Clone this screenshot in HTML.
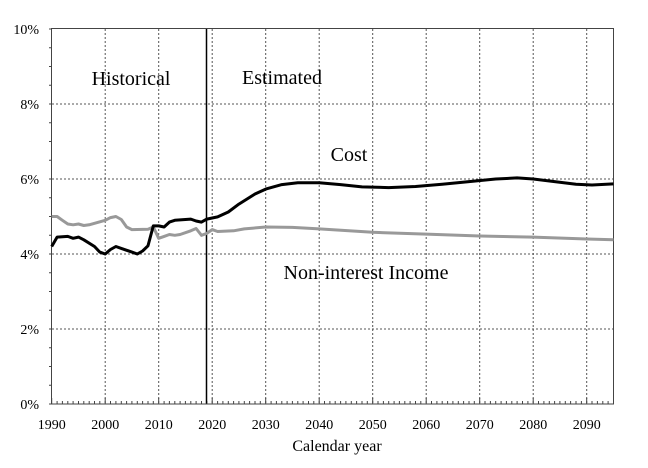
<!DOCTYPE html>
<html><head><meta charset="utf-8"><style>
html,body{margin:0;padding:0;background:#fff;}
svg{display:block;font-family:"Liberation Serif",serif;}
</style></head><body>
<svg id="s" width="648" height="468" viewBox="0 0 648 468" xmlns="http://www.w3.org/2000/svg">
<rect width="648" height="468" fill="#fff"/>
<g id="grid" stroke="#555" stroke-width="1" stroke-dasharray="2,2"></g>
<g id="ticks" stroke="#444" stroke-width="1"></g>
<line x1="206.5" y1="29" x2="206.5" y2="404" stroke="#000" stroke-width="1.5"/>
<rect x="51.5" y="28.5" width="562" height="375.5" fill="none" stroke="#444" stroke-width="1"/>
<polyline id="inc" fill="none" stroke="#999" stroke-width="3" stroke-linejoin="round"/>
<polyline id="cost" fill="none" stroke="#000" stroke-width="3" stroke-linejoin="round"/>
<g font-size="14" text-anchor="end" fill="#000">
<text x="39" y="34">10%</text><text x="39" y="109">8%</text><text x="39" y="184">6%</text>
<text x="39" y="259">4%</text><text x="39" y="334">2%</text><text x="39" y="409">0%</text>
</g>
<g id="xl" font-size="14" text-anchor="middle" fill="#000"></g>
<text x="337" y="451" font-size="16" text-anchor="middle">Calendar year</text>
<text x="131" y="85" font-size="20" text-anchor="middle">Historical</text>
<text x="282" y="84" font-size="20" text-anchor="middle">Estimated</text>
<text x="349" y="161" font-size="20" text-anchor="middle">Cost</text>
<text x="366" y="279" font-size="20" text-anchor="middle">Non-interest Income</text>
</svg>
<script>
var X=function(y){return 51.7+(y-1990)*5.35}, Y=function(v){return 404-37.5*v};
var ns="http://www.w3.org/2000/svg";
function el(p,t,a,txt){var e=document.createElementNS(ns,t);for(var k in a)e.setAttribute(k,a[k]);if(txt)e.textContent=txt;document.getElementById(p).appendChild(e);}
for(var yr=2000;yr<=2090;yr+=10){var x=X(yr).toFixed(1);el("grid","line",{x1:x,x2:x,y1:29,y2:404});}
for(var v=2;v<=8;v+=2){var y=Y(v);el("grid","line",{x1:52,x2:613,y1:y,y2:y});}
for(var yr=1990;yr<=2095;yr++){var x=X(yr).toFixed(1);el("ticks","line",{x1:x,x2:x,y1:404,y2:yr%10?401:398});}
for(var v=0;v<=10;v+=0.5){var y=Y(v);el("ticks","line",{x1:49,x2:52,y1:y,y2:y});}
for(var yr=1990;yr<=2090;yr+=10){el("xl","text",{x:X(yr).toFixed(1),y:429},String(yr));}
function pts(d){return d.map(function(p){return X(p[0]).toFixed(1)+","+Y(p[1]).toFixed(1)}).join(" ")}
var cost=[[1990,4.2],[1991,4.45],[1993,4.47],[1994,4.42],[1995,4.45],[1996,4.38],[1998,4.2],[1999,4.05],[2000,4.0],[2001,4.12],[2002,4.2],[2003,4.15],[2005,4.05],[2006,4.0],[2007,4.08],[2008,4.22],[2009,4.75],[2010,4.75],[2011,4.72],[2012,4.85],[2013,4.9],[2016,4.93],[2017,4.88],[2018,4.85],[2019,4.93],[2021,4.99],[2023,5.12],[2025,5.33],[2028,5.6],[2030,5.73],[2033,5.85],[2036,5.9],[2040,5.9],[2044,5.85],[2048,5.79],[2053,5.77],[2058,5.8],[2063,5.86],[2068,5.93],[2073,6.0],[2077,6.03],[2080,6.0],[2084,5.93],[2088,5.86],[2091,5.84],[2095,5.87]];
var inc=[[1990,5.0],[1991,5.0],[1992,4.9],[1993,4.8],[1994,4.78],[1995,4.8],[1996,4.76],[1997,4.78],[2000,4.9],[2001,4.97],[2002,5.0],[2003,4.92],[2004,4.72],[2005,4.65],[2008,4.66],[2009,4.72],[2010,4.42],[2011,4.47],[2012,4.52],[2013,4.5],[2014,4.52],[2016,4.62],[2017,4.68],[2018,4.5],[2019,4.55],[2020,4.65],[2021,4.6],[2024,4.62],[2026,4.67],[2030,4.72],[2035,4.71],[2040,4.67],[2050,4.58],[2060,4.53],[2070,4.48],[2080,4.45],[2090,4.4],[2095,4.38]];
document.getElementById("cost").setAttribute("points",pts(cost));
document.getElementById("inc").setAttribute("points",pts(inc));
</script>
</body></html>
